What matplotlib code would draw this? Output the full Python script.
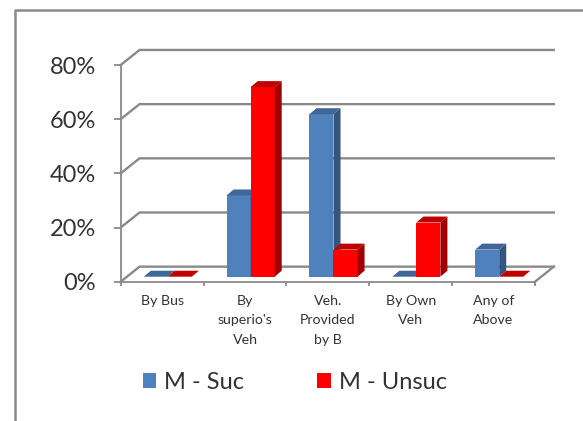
from matplotlib import pyplot as plt
from matplotlib.lines import Line2D
from matplotlib.ticker import PercentFormatter

categories = ["By Bus", "By\nsuperio's\nVeh", "Veh.\nProvided\nby B", "By Own\nVeh", "Any of\nAbove"]
m_suc = [0, 30, 60, 0, 10]
m_unsuc = [0, 70, 10, 20, 0]
y_ticks = [0, 20, 40, 60, 80]

W, H = 583, 421
GRID = "#8a8a8a"
plt.rcParams['font.family'] = ['Lato', 'DejaVu Sans']

fig = plt.figure(figsize=(W / 100, H / 100), dpi=100)
ax = fig.add_axes([120.7 / W, 1 - 281.7 / H, 414.3 / W, 216.7 / H])
ax.set_xlim(0, 5)
ax.set_ylim(0, 80)

# depth of the fake 3d, in data units
wall_dx, wall_dy = 0.227, 5.55
bar_dx, bar_dy = 0.085, 2.2
floor = 1.85
bar_w = 0.29

# back wall and floor
for t in y_ticks:
    ax.plot([0, wall_dx, 5 + wall_dx], [t, t + wall_dy, t + wall_dy],
            color=GRID, lw=1.7, clip_on=False, zorder=1, solid_joinstyle='miter')
ax.plot([5, 5 + wall_dx], [0, wall_dy], color=GRID, lw=1.7, clip_on=False, zorder=1)


def draw_bar(x, val, front, top, side):
    b = ax.bar(x, val, bar_w, bottom=floor, align='edge', color=front, zorder=3)
    y1 = floor + val
    ax.fill([x, x + bar_dx, x + bar_w + bar_dx, x + bar_w],
            [y1, y1 + bar_dy, y1 + bar_dy, y1], color=top, lw=0, zorder=3, clip_on=False)
    ax.fill([x + bar_w, x + bar_w + bar_dx, x + bar_w + bar_dx, x + bar_w],
            [floor, floor + bar_dy, y1 + bar_dy, y1], color=side, lw=0, zorder=3, clip_on=False)
    return b


for i in range(len(categories)):
    x0 = i + 0.5 + 0.068 - bar_w
    h1 = draw_bar(x0, m_suc[i], "#4F81BD", "#3F6797", "#35557F")
    h2 = draw_bar(x0 + bar_w, m_unsuc[i], "#FF0000", "#C00000", "#A00000")
    ax.text(i + 0.5, -5.0, categories[i], ha='center', va='top',
            fontsize=10.2, color="#333333", linespacing=1.72)

for s in ['top', 'right']:
    ax.spines[s].set_visible(False)
for s in ['left', 'bottom']:
    ax.spines[s].set_color(GRID)
    ax.spines[s].set_linewidth(1.3)

ax.set_yticks(y_ticks)
ax.yaxis.set_major_formatter(PercentFormatter(decimals=0))
ax.tick_params(axis='y', length=5, width=1.3, color=GRID, pad=13, labelsize=17, labelcolor="#333333")
ax.set_xticks(range(6))
ax.set_xticklabels([])
ax.tick_params(axis='x', length=3, width=1.3, color=GRID)
ax.patch.set_alpha(0)

ax.legend([h1, h2], ["M - Suc", "M - Unsuc"], ncol=2, frameon=False,
          loc='upper left', bbox_to_anchor=((142.5 - 120.7) / 414.3, -(372 - 281.7) / 216.7),
          fontsize=17, borderpad=0, borderaxespad=0, handlelength=0.59, handleheight=0.6,
          handletextpad=0.32, columnspacing=3.1, labelcolor="#333333")

# outer chart frame, only top and left are in the picture
fig.add_artist(Line2D([14.5 / W, 14.5 / W, 1], [0, 1 - 10 / H, 1 - 10 / H], color=GRID, lw=1.8))

fig.savefig("out.png", dpi=100)
